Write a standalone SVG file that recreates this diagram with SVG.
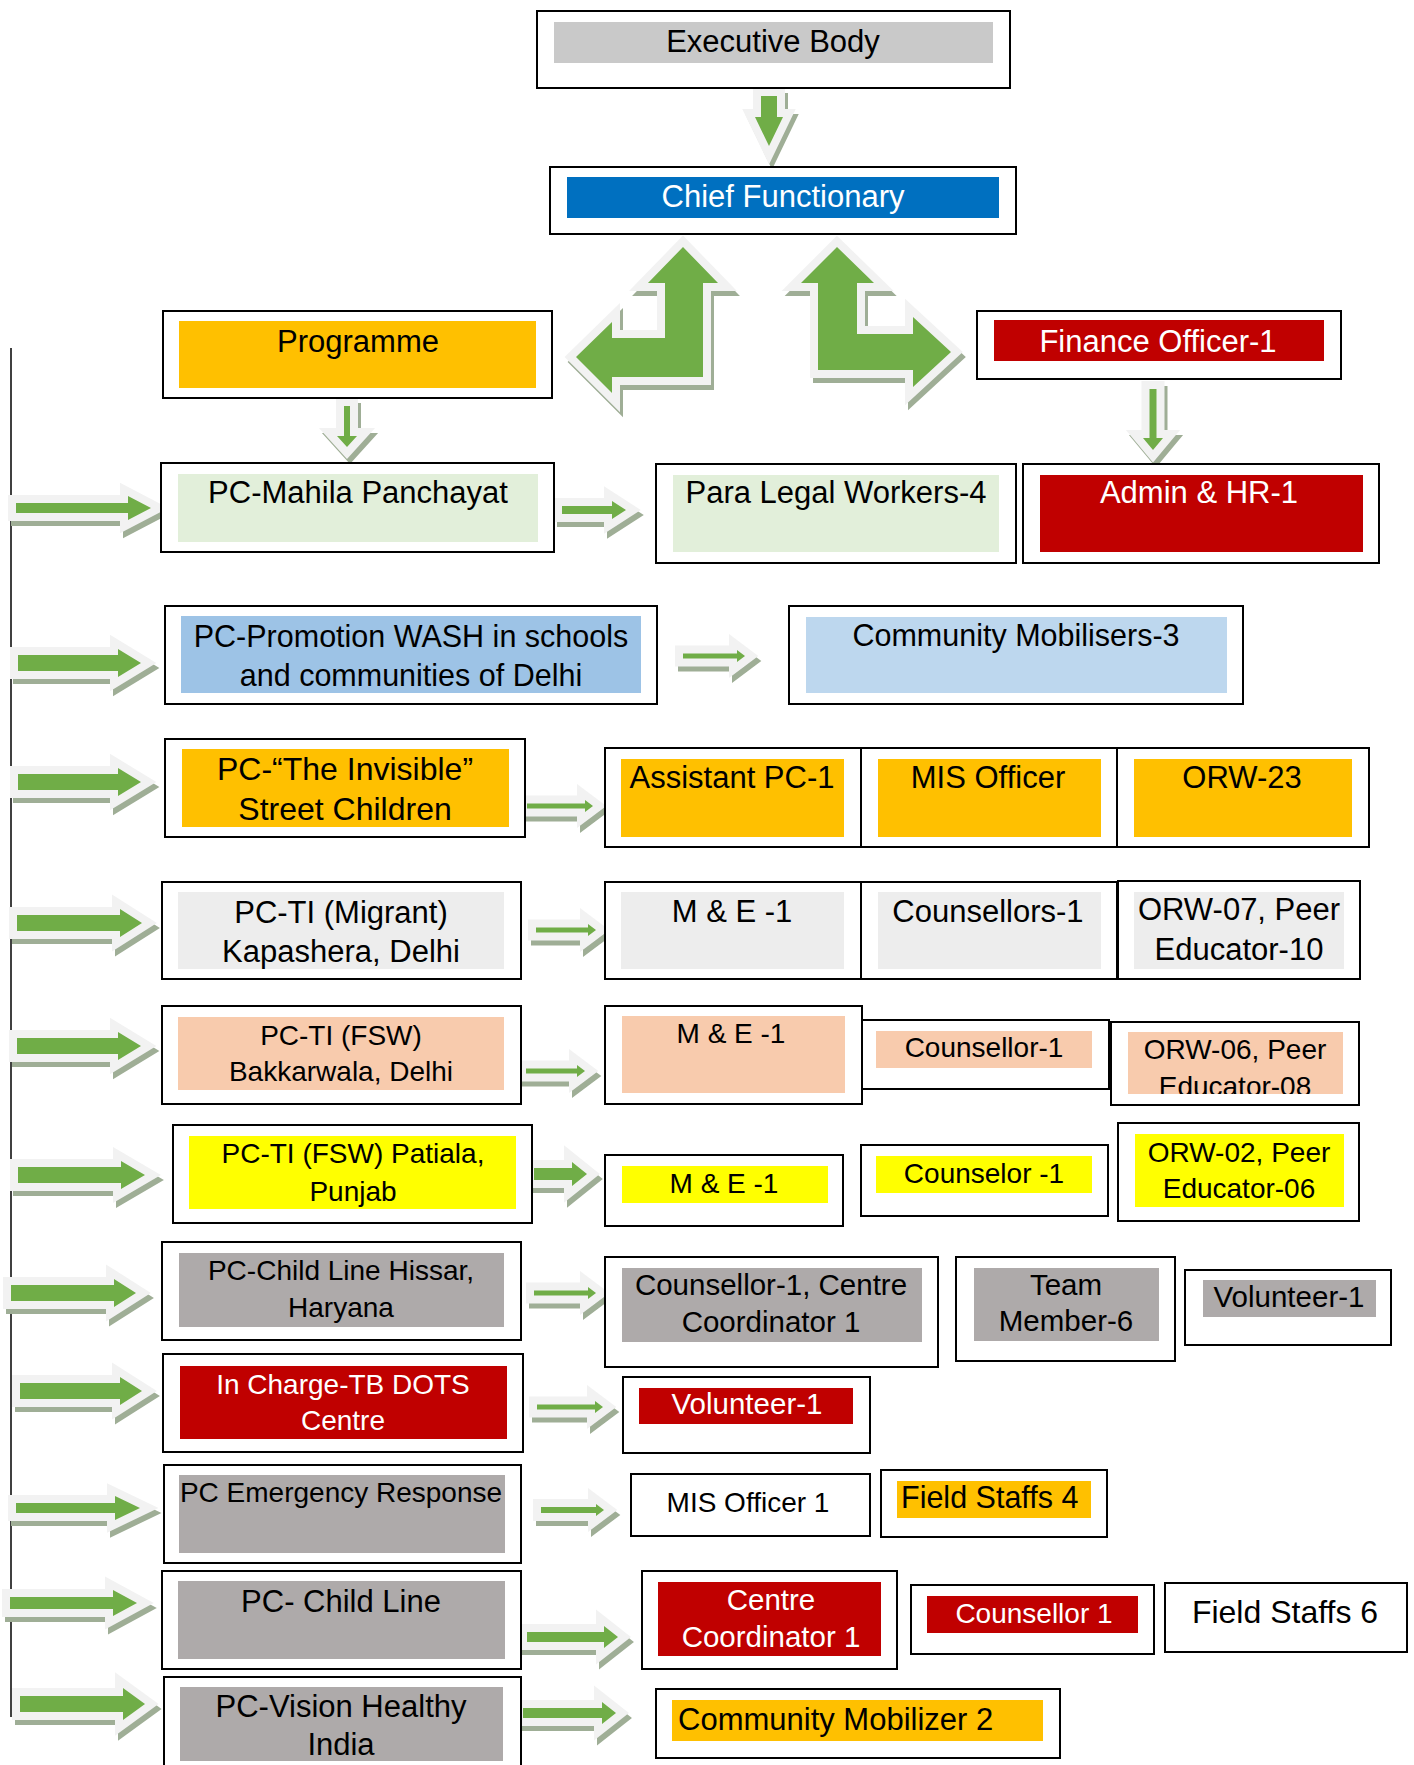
<svg xmlns="http://www.w3.org/2000/svg" width="1414" height="1765" viewBox="0 0 1414 1765">
<style>
.box{fill:#fff;stroke:#000;stroke-width:2}
.t{font-family:"Liberation Sans",Arial,sans-serif;font-size:31px;text-anchor:middle;fill:#000}
.s28{font-size:28px}.s29{font-size:29.5px}.s32{font-size:32px}.s30{font-size:30.5px}
.w{fill:#fff}
.st{text-anchor:start}
.sh{fill:#9fae96;stroke:#9fae96;stroke-width:16;stroke-linejoin:miter;stroke-miterlimit:10}
.ol{fill:#f2f2f2;stroke:#f2f2f2;stroke-width:16;stroke-linejoin:miter;stroke-miterlimit:10}
.gr{fill:#70ad47;stroke:none}
.gray{fill:#c9c9c9}.blue{fill:#0070c0}.orange{fill:#ffc000}.lgreen{fill:#e2efda}.red{fill:#c00000}
.wash{fill:#9dc3e6}.lblue{fill:#bdd7ee}.lgray{fill:#ededed}.peach{fill:#f8cbad}.yellow{fill:#ffff00}.dgray{fill:#aeaaaa}
</style>
<defs>
<clipPath id="clipOrw06"><rect x="1128" y="1032" width="215" height="62"/></clipPath>
<g id="arrows">
<path d="M683 247L718 283H703V377H612V393L576 357L612 322V338H665V283H648Z"/>
<path d="M837 247L874 283H857V334H913V317L951 352L913 387V370H818V283H801Z"/>
<path d="M761 96V117H755L769 146L783 117H777V96Z"/>
<path d="M344 406V436H337L347 447L357 436H350V406Z"/>
<path d="M1149.5 389V438H1143L1153 450L1163 438H1156.5V389Z"/>
<path d="M16 503H128V496L151 508L128 520V513H16Z"/>
<path d="M18 655H118V649L141 663L118 677V671H18Z"/>
<path d="M18 774H118V768L141 782L118 796V790H18Z"/>
<path d="M17 915H120V909L142 923L120 937V931H17Z"/>
<path d="M17 1038H118V1032L141 1046L118 1060V1054H17Z"/>
<path d="M18 1167H121V1161L145 1175L121 1189V1183H18Z"/>
<path d="M11 1285H114V1279L136 1293L114 1307V1301H11Z"/>
<path d="M20 1383H120V1377L142 1391L120 1405V1399H20Z"/>
<path d="M16 1503H115V1496L140 1508L115 1520V1513H16Z"/>
<path d="M10 1597H113V1590L137 1603L113 1616V1609H10Z"/>
<path d="M20 1696H123V1688L145 1704L123 1720V1712H20Z"/>
<path d="M562 506H612V501L626 510L612 519V514H562Z"/>
<path d="M683 653.5H737V650L745 656L737 662V658.5H683Z"/>
<path d="M527 803.5H585V800L593 806L585 812V808.5H527Z"/>
<path d="M536 927.5H588V924L596 930L588 936V932.5H536Z"/>
<path d="M526 1068.5H577V1065L585 1071L577 1077V1073.5H526Z"/>
<path d="M534 1168H572V1162L587 1174L572 1186V1180H534Z"/>
<path d="M534 1290.5H588V1287L596 1293L588 1299V1295.5H534Z"/>
<path d="M537 1404.5H595V1401L603 1407L595 1413V1409.5H537Z"/>
<path d="M541 1507H596V1504L604 1510L596 1516V1513H541Z"/>
<path d="M527 1632H604V1626L618 1637L604 1648V1642H527Z"/>
<path d="M523 1708H602V1702L616 1713L602 1724V1718H523Z"/>
</g>
</defs>
<rect width="1414" height="1765" fill="#fff"/>
<g id="connectors">
<line x1="11" y1="348" x2="11" y2="1717" stroke="#000" stroke-width="1.5"/>
<use href="#arrows" class="sh" transform="translate(3,5)"/>
<use href="#arrows" class="ol"/>
<use href="#arrows" class="gr"/>
</g>
<g id="exec"><rect class="box" x="537" y="11" width="473" height="77"/><rect class="gray" x="554" y="22" width="439" height="41"/><text class="t" x="773" y="52">Executive Body</text></g>
<g id="chief"><rect class="box" x="550" y="167" width="466" height="67"/><rect class="blue" x="567" y="177" width="432" height="41"/><text class="t w" x="783" y="207">Chief Functionary</text></g>
<g id="programme"><rect class="box" x="163" y="311" width="389" height="87"/><rect class="orange" x="179" y="321" width="357" height="67"/><text class="t" x="358" y="352">Programme</text></g>
<g id="finance"><rect class="box" x="977" y="311" width="364" height="68"/><rect class="red" x="994" y="320" width="330" height="41"/><text class="t w" x="1158" y="352">Finance Officer-1</text></g>
<g id="mahila"><rect class="box" x="161" y="463" width="393" height="89"/><rect class="lgreen" x="178" y="474" width="360" height="68"/><text class="t" x="358" y="503">PC-Mahila Panchayat</text></g>
<g id="paralegal"><rect class="box" x="656" y="464" width="360" height="99"/><rect class="lgreen" x="673" y="475" width="326" height="77"/><text class="t" x="836" y="503">Para Legal Workers-4</text></g>
<g id="admin"><rect class="box" x="1023" y="464" width="356" height="99"/><rect class="red" x="1040" y="475" width="323" height="77"/><text class="t w" x="1199" y="503">Admin &amp; HR-1</text></g>
<g id="wash"><rect class="box" x="165" y="606" width="492" height="98"/><rect class="wash" x="181" y="616" width="460" height="77"/><text class="t s30" x="411" y="647">PC-Promotion WASH in schools</text><text class="t s30" x="411" y="686">and communities of Delhi</text></g>
<g id="commob3"><rect class="box" x="789" y="606" width="454" height="98"/><rect class="lblue" x="806" y="617" width="421" height="76"/><text class="t s30" x="1016" y="646">Community Mobilisers-3</text></g>
<g id="invisible"><rect class="box" x="165" y="739" width="360" height="98"/><rect class="orange" x="182" y="749" width="327" height="78"/><text class="t s32" x="345" y="780">PC-“The Invisible”</text><text class="t s32" x="345" y="820">Street Children</text></g>
<g id="asstpc"><rect class="box" x="605" y="748" width="256" height="99"/><rect class="orange" x="621" y="759" width="223" height="78"/><text class="t" x="732" y="788">Assistant PC-1</text></g>
<g id="misofficer"><rect class="box" x="861" y="748" width="256" height="99"/><rect class="orange" x="878" y="759" width="223" height="78"/><text class="t" x="988" y="788">MIS Officer</text></g>
<g id="orw23"><rect class="box" x="1117" y="748" width="252" height="99"/><rect class="orange" x="1134" y="759" width="218" height="78"/><text class="t" x="1242" y="788">ORW-23</text></g>
<g id="migrant"><rect class="box" x="162" y="882" width="359" height="97"/><rect class="lgray" x="178" y="892" width="326" height="77"/><text class="t" x="341" y="923">PC-TI (Migrant)</text><text class="t" x="341" y="962">Kapashera, Delhi</text></g>
<g id="me-migrant"><rect class="box" x="605" y="882" width="256" height="97"/><rect class="lgray" x="621" y="892" width="223" height="77"/><text class="t" x="732" y="922">M &amp; E -1</text></g>
<g id="counsellors1"><rect class="box" x="861" y="882" width="256" height="97"/><rect class="lgray" x="878" y="892" width="223" height="77"/><text class="t" x="988" y="922">Counsellors-1</text></g>
<g id="orw07"><rect class="box" x="1118" y="881" width="242" height="98"/><rect class="lgray" x="1134" y="892" width="210" height="77"/><text class="t" x="1239" y="920">ORW-07, Peer</text><text class="t" x="1239" y="960">Educator-10</text></g>
<g id="bakkarwala"><rect class="box" x="162" y="1006" width="359" height="98"/><rect class="peach" x="178" y="1017" width="326" height="73"/><text class="t s28" x="341" y="1045">PC-TI (FSW)</text><text class="t s28" x="341" y="1081">Bakkarwala, Delhi</text></g>
<g id="me-fsw"><rect class="box" x="605" y="1006" width="257" height="98"/><rect class="peach" x="622" y="1016" width="223" height="77"/><text class="t s28" x="731" y="1043">M &amp; E -1</text></g>
<g id="counsellor-fsw"><rect class="box" x="862" y="1020" width="247" height="69"/><rect class="peach" x="876" y="1031" width="216" height="37"/><text class="t s28" x="984" y="1057">Counsellor-1</text></g>
<g id="orw06"><rect class="box" x="1111" y="1022" width="248" height="83"/><rect class="peach" x="1128" y="1032" width="215" height="62"/><text class="t s28" x="1235" y="1059">ORW-06, Peer</text><text class="t s28" x="1235" y="1096" clip-path="url(#clipOrw06)">Educator-08</text></g>
<g id="patiala"><rect class="box" x="173" y="1125" width="359" height="98"/><rect class="yellow" x="189" y="1136" width="327" height="73"/><text class="t s28" x="353" y="1163">PC-TI (FSW) Patiala,</text><text class="t s28" x="353" y="1201">Punjab</text></g>
<g id="me-patiala"><rect class="box" x="605" y="1155" width="238" height="71"/><rect class="yellow" x="622" y="1166" width="206" height="37"/><text class="t s28" x="724" y="1193">M &amp; E -1</text></g>
<g id="counselor"><rect class="box" x="861" y="1145" width="247" height="71"/><rect class="yellow" x="876" y="1156" width="216" height="37"/><text class="t s28" x="984" y="1183">Counselor -1</text></g>
<g id="orw02"><rect class="box" x="1118" y="1123" width="241" height="98"/><rect class="yellow" x="1135" y="1134" width="209" height="73"/><text class="t s28" x="1239" y="1162">ORW-02, Peer</text><text class="t s28" x="1239" y="1198">Educator-06</text></g>
<g id="hissar"><rect class="box" x="162" y="1242" width="359" height="98"/><rect class="dgray" x="179" y="1253" width="325" height="74"/><text class="t s28" x="341" y="1280">PC-Child Line Hissar,</text><text class="t s28" x="341" y="1317">Haryana</text></g>
<g id="counsellor-centre"><rect class="box" x="605" y="1257" width="333" height="110"/><rect class="dgray" x="622" y="1268" width="300" height="74"/><text class="t s29" x="771" y="1295">Counsellor-1, Centre</text><text class="t s29" x="771" y="1332">Coordinator 1</text></g>
<g id="team"><rect class="box" x="956" y="1257" width="219" height="104"/><rect class="dgray" x="974" y="1268" width="185" height="73"/><text class="t s29" x="1066" y="1295">Team</text><text class="t s29" x="1066" y="1331">Member-6</text></g>
<g id="volunteer-gray"><rect class="box" x="1185" y="1270" width="206" height="75"/><rect class="dgray" x="1203" y="1280" width="173" height="37"/><text class="t s29" x="1289" y="1307">Volunteer-1</text></g>
<g id="tb"><rect class="box" x="163" y="1354" width="360" height="98"/><rect class="red" x="180" y="1366" width="327" height="73"/><text class="t s28 w" x="343" y="1394">In Charge-TB DOTS</text><text class="t s28 w" x="343" y="1430">Centre</text></g>
<g id="volunteer-red"><rect class="box" x="623" y="1377" width="247" height="76"/><rect class="red" x="639" y="1388" width="214" height="36"/><text class="t s29 w" x="747" y="1414">Volunteer-1</text></g>
<g id="emergency"><rect class="box" x="164" y="1465" width="357" height="98"/><rect class="dgray" x="179" y="1475" width="326" height="78"/><text class="t s28" x="341" y="1502">PC Emergency Response</text></g>
<g id="mis1"><rect class="box" x="631" y="1474" width="239" height="62"/><text class="t s28" x="748" y="1512">MIS Officer 1</text></g>
<g id="fieldstaffs4"><rect class="box" x="881" y="1470" width="226" height="67"/><rect class="orange" x="897" y="1481" width="194" height="37"/><text class="t s30 st" x="901" y="1508">Field Staffs 4</text></g>
<g id="childline"><rect class="box" x="162" y="1571" width="359" height="98"/><rect class="dgray" x="178" y="1581" width="327" height="78"/><text class="t" x="341" y="1612">PC- Child Line</text></g>
<g id="centre"><rect class="box" x="642" y="1571" width="255" height="98"/><rect class="red" x="658" y="1582" width="223" height="74"/><text class="t s29 w" x="771" y="1610">Centre</text><text class="t s29 w" x="771" y="1647">Coordinator 1</text></g>
<g id="counsellor1"><rect class="box" x="911" y="1585" width="243" height="69"/><rect class="red" x="927" y="1596" width="211" height="37"/><text class="t s28 w" x="1034" y="1623">Counsellor 1</text></g>
<g id="fieldstaffs6"><rect class="box" x="1165" y="1583" width="242" height="69"/><text class="t s32" x="1285" y="1623">Field Staffs 6</text></g>
<g id="vision"><rect class="box" x="164" y="1677" width="357" height="100"/><rect class="dgray" x="180" y="1687" width="323" height="74"/><text class="t" x="341" y="1717">PC-Vision Healthy</text><text class="t" x="341" y="1755">India</text></g>
<g id="commob2"><rect class="box" x="656" y="1689" width="404" height="69"/><rect class="orange" x="672" y="1700" width="371" height="41"/><text class="t st" x="678" y="1730">Community Mobilizer 2</text></g>
</svg>
